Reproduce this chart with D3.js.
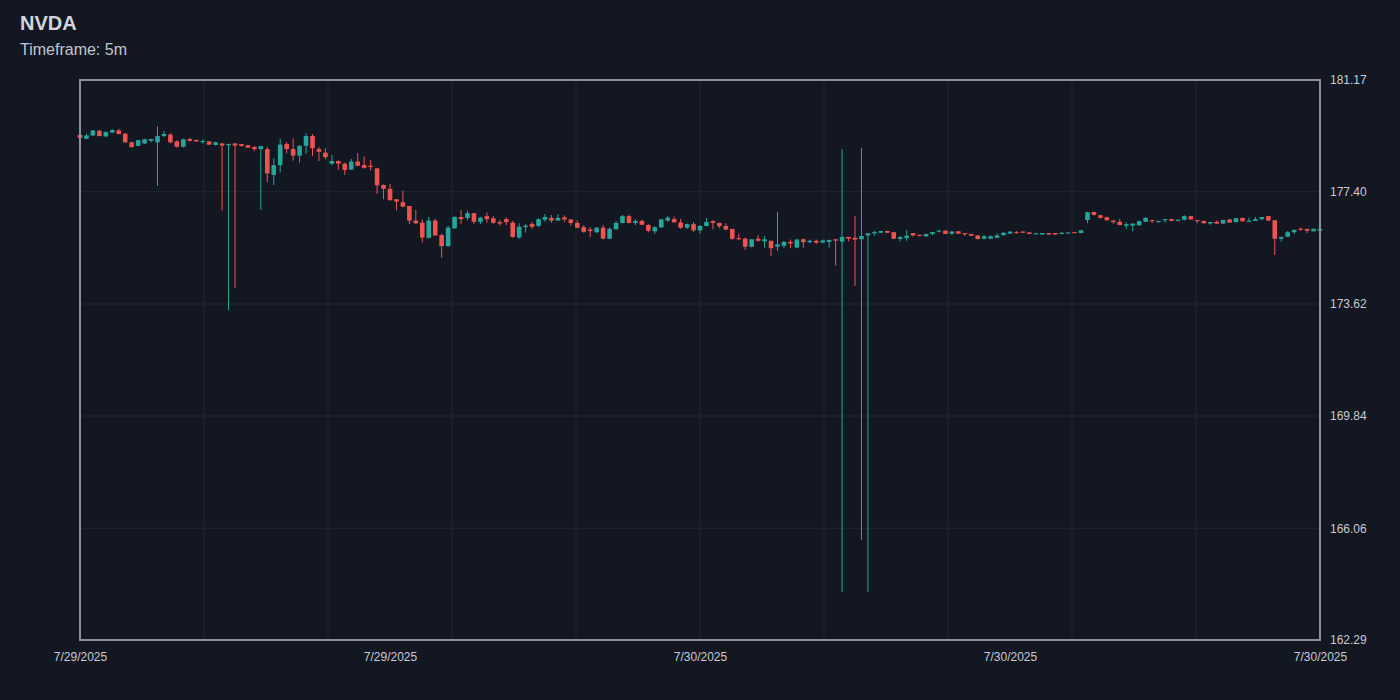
<!DOCTYPE html>
<html>
<head>
<meta charset="utf-8">
<script src="https://cdn.jsdelivr.net/npm/d3@7"></script>
<style>
  html, body { margin: 0; padding: 0; background: #131722; }
  svg { display: block; }
</style>
</head>
<body>
<svg id="chart"></svg>
<script>
// 5m candles, 193 bars
const opens = [
179.32,179.19,179.30,179.46,179.27,179.40,179.47,179.36,179.07,178.95,
179.03,179.12,179.07,179.28,179.33,179.10,178.92,179.18,179.15,179.08,
179.10,178.98,179.03,178.97,179.03,179.01,178.97,178.91,178.84,178.84,
177.97,178.30,179.01,178.84,178.62,178.95,179.28,178.84,178.72,178.35,
178.44,178.35,178.15,178.42,178.30,178.28,178.19,177.63,177.50,177.15,
177.05,176.92,176.43,176.36,175.85,176.43,175.94,175.57,176.17,176.55,
176.52,176.68,176.39,176.58,176.51,176.38,176.48,176.36,175.86,176.21,
176.32,176.25,176.46,176.52,176.43,176.54,176.47,176.35,176.21,176.13,
176.04,176.19,175.82,176.14,176.35,176.58,176.35,176.42,176.28,176.07,
176.20,176.43,176.48,176.37,176.19,176.31,176.10,176.25,176.41,176.35,
176.25,176.15,175.84,175.82,175.55,175.82,175.73,175.75,175.55,175.58,
175.71,175.52,175.80,175.70,175.75,175.69,175.71,175.80,175.72,175.88,
175.85,175.80,175.93,176.00,176.02,176.08,176.04,175.81,175.84,176.01,
175.95,175.90,175.98,176.06,176.09,175.99,176.07,176.01,175.98,175.93,
175.82,175.82,175.85,175.94,175.99,176.04,176.06,176.03,175.97,175.96,
176.01,176.01,175.98,176.00,176.04,176.01,176.45,176.72,176.61,176.54,
176.43,176.39,176.26,176.26,176.27,176.39,176.45,176.39,176.44,176.48,
176.42,176.46,176.58,176.45,176.42,176.33,176.39,176.33,176.47,176.38,
176.52,176.39,176.42,176.48,176.58,176.44,175.82,175.89,176.04,176.16,
176.15,176.07,176.09
];
const highs = [
179.33,179.36,179.48,179.48,179.45,179.52,179.52,179.38,179.09,179.15,
179.19,179.19,179.61,179.45,179.38,179.14,179.19,179.21,179.16,179.16,
179.11,179.09,179.05,179.03,179.04,179.01,178.98,178.94,178.94,178.91,
178.53,179.20,179.08,179.20,178.98,179.38,179.35,178.92,178.87,178.64,
178.46,178.38,178.51,178.71,178.59,178.47,178.21,177.65,177.66,177.15,
177.44,176.92,176.79,176.47,176.56,176.48,176.00,176.26,176.58,176.79,
176.76,176.69,176.55,176.70,176.58,176.45,176.54,176.42,176.34,176.32,
176.38,176.51,176.65,176.62,176.65,176.61,176.47,176.44,176.28,176.21,
176.21,176.28,176.20,176.42,176.62,176.63,176.48,176.46,176.31,176.24,
176.49,176.58,176.57,176.49,176.33,176.38,176.27,176.52,176.44,176.35,
176.34,176.15,175.98,175.86,175.81,175.94,175.91,175.75,176.72,175.74,
175.79,175.82,175.82,175.79,175.79,175.79,175.78,175.81,178.84,175.88,
176.58,178.88,176.01,176.09,176.08,176.09,176.04,175.91,176.11,176.01,
175.95,175.98,176.04,176.12,176.10,176.08,176.08,176.01,175.98,175.94,
175.94,175.94,176.00,176.04,176.07,176.08,176.07,176.04,176.02,176.01,
176.01,176.01,176.04,176.04,176.05,176.12,176.73,176.73,176.63,176.56,
176.44,176.49,176.37,176.33,176.43,176.55,176.45,176.43,176.48,176.49,
176.47,176.61,176.58,176.45,176.42,176.38,176.43,176.45,176.47,176.51,
176.52,176.53,176.55,176.55,176.58,176.45,175.88,176.08,176.12,176.19,
176.15,176.16,176.15
];
const lows = [
179.19,179.18,179.29,179.27,179.24,179.38,179.34,179.05,178.89,178.94,
179.01,179.07,177.60,179.25,179.03,178.89,178.89,179.09,179.09,179.03,
178.98,178.96,176.76,173.41,174.16,178.92,178.88,178.77,176.79,177.72,
177.63,178.05,178.70,178.45,178.38,178.68,178.61,178.44,178.50,178.30,
178.14,177.97,178.14,178.26,178.18,178.12,177.33,177.15,177.10,176.77,
176.88,176.31,176.32,175.69,175.83,175.92,175.18,175.55,176.15,176.32,
176.45,176.32,176.32,176.36,176.32,176.26,176.28,175.85,175.82,176.03,
176.15,176.21,176.39,176.36,176.43,176.39,176.26,176.17,176.02,175.88,
176.01,175.80,175.80,176.12,176.33,176.33,176.28,176.28,176.03,175.98,
176.19,176.39,176.36,176.15,176.15,176.05,175.99,176.24,176.14,176.17,
176.10,175.78,175.78,175.44,175.53,175.72,175.51,175.24,175.41,175.50,
175.50,175.50,175.52,175.67,175.64,175.67,175.52,174.91,163.91,175.73,
174.23,165.66,163.91,175.92,176.01,176.01,175.81,175.73,175.75,175.89,
175.90,175.89,175.94,176.04,175.98,175.94,175.98,175.91,175.91,175.79,
175.80,175.81,175.84,175.93,175.98,175.99,176.01,175.97,175.96,175.96,
175.94,175.96,175.97,175.99,176.01,176.00,176.34,176.60,176.50,176.43,
176.32,176.27,176.15,176.07,176.26,176.38,176.35,176.35,176.36,176.41,
176.41,176.43,176.46,176.34,176.33,176.29,176.32,176.32,176.35,176.37,
176.39,176.39,176.42,176.44,176.42,175.27,175.72,175.87,175.98,176.09,
176.01,176.06,176.08
];
const closes = [
179.22,179.30,179.47,179.28,179.41,179.48,179.35,179.07,178.91,179.14,
179.17,179.18,179.28,179.35,179.07,178.92,179.17,179.12,179.10,179.11,
178.99,179.07,178.96,179.01,178.96,178.95,178.89,178.84,178.94,178.02,
178.30,178.99,178.84,178.62,178.95,179.28,178.87,178.75,178.57,178.44,
178.35,178.14,178.42,178.28,178.21,178.24,177.62,177.50,177.12,177.07,
176.90,176.43,176.34,175.86,176.43,175.93,175.57,176.19,176.55,176.48,
176.68,176.39,176.53,176.48,176.36,176.33,176.38,175.88,176.22,176.26,
176.22,176.48,176.55,176.43,176.52,176.47,176.35,176.19,176.05,176.08,
176.19,175.82,176.15,176.35,176.58,176.35,176.42,176.29,176.09,176.21,
176.47,176.53,176.37,176.19,176.31,176.10,176.25,176.38,176.35,176.24,
176.13,175.82,175.80,175.55,175.80,175.75,175.80,175.50,175.63,175.71,
175.66,175.79,175.70,175.75,175.69,175.76,175.78,175.75,175.88,175.82,
175.79,175.91,176.00,176.04,176.08,176.02,175.82,175.87,175.92,175.93,
175.91,175.98,176.04,176.09,175.98,176.06,175.99,175.97,175.92,175.81,
175.90,175.90,175.93,176.02,176.06,176.01,176.02,175.98,176.00,176.01,
175.96,175.96,176.02,176.03,176.02,176.10,176.71,176.62,176.52,176.44,
176.38,176.28,176.31,176.33,176.41,176.52,176.41,176.42,176.48,176.42,
176.46,176.58,176.47,176.42,176.34,176.38,176.33,176.45,176.36,176.51,
176.41,176.43,176.48,176.55,176.43,175.82,175.88,176.04,176.12,176.12,
176.09,176.15,176.15
];

const xTickIndex = [0, 48, 96, 144, 192];
const xTickLabels = ["7/29/2025", "7/29/2025", "7/30/2025", "7/30/2025", "7/30/2025"];
const yTicks = [162.29, 166.06, 169.84, 173.62, 177.40, 181.17];

const width = 1400, height = 700;
const plotL = 80, plotR = 1320, plotT = 80, plotB = 640;
const up = "#26a69a", down = "#ef5350";

const data = opens.map((o, i) => ({ i, o, h: highs[i], l: lows[i], c: closes[i] }));

const svg = d3.select("#chart").attr("width", width).attr("height", height);
svg.append("rect").attr("width", width).attr("height", height).attr("fill", "#131722");

const x = d3.scaleLinear().domain([0, data.length - 1]).range([plotL, plotR]);
const y = d3.scaleLinear().domain([yTicks[0], yTicks[yTicks.length - 1]]).range([plotB, plotT]);

// title
svg.append("text").attr("x", 20).attr("y", 30).text("NVDA")
    .style("font", "bold 20px 'Liberation Sans', Arial, sans-serif").style("fill", "#d1d4dc");
svg.append("text").attr("x", 20).attr("y", 55).text("Timeframe: 5m")
    .style("font", "16px 'Liberation Sans', Arial, sans-serif").style("fill", "#c3c6ce");

// grid
const grid = svg.append("g").attr("stroke", "#1e222d").attr("stroke-width", 1.5);
grid.selectAll("line.h").data(yTicks.slice(1, -1)).join("line")
    .attr("x1", plotL).attr("x2", plotR)
    .attr("y1", d => y(d)).attr("y2", d => y(d));
const xFrac = d3.scaleLinear().domain([0, 10]).range([plotL, plotR]);
grid.selectAll("line.v").data(d3.range(1, 10)).join("line")
    .attr("y1", plotT).attr("y2", plotB)
    .attr("x1", d => xFrac(d)).attr("x2", d => xFrac(d));

// candles
const bodyW = 4.6;
const candles = svg.append("g").selectAll("g").data(data).join("g");
candles.append("line")
    .attr("x1", d => x(d.i)).attr("x2", d => x(d.i))
    .attr("y1", d => y(d.h)).attr("y2", d => y(d.l))
    .attr("stroke", d => d.c >= d.o ? up : down).attr("stroke-width", 1);
candles.append("rect")
    .attr("x", d => x(d.i) - bodyW / 2).attr("width", bodyW)
    .attr("y", d => y(Math.max(d.o, d.c)))
    .attr("height", d => Math.max(1, y(Math.min(d.o, d.c)) - y(Math.max(d.o, d.c))))
    .attr("fill", d => d.c >= d.o ? up : down);

// frame
svg.append("rect").attr("x", plotL).attr("y", plotT)
    .attr("width", plotR - plotL).attr("height", plotB - plotT)
    .attr("fill", "none").attr("stroke", "#8c9099").attr("stroke-width", 2);

// axes
const yAxis = svg.append("g").attr("transform", `translate(${plotR},0)`)
    .call(d3.axisRight(y).tickValues(yTicks).tickFormat(d3.format(".2f")).tickSize(0).tickPadding(10));
yAxis.select(".domain").remove();
yAxis.selectAll("text").style("font", "12px 'Liberation Sans', Arial, sans-serif").style("fill", "#c8cad0");

const xAxis = svg.append("g").attr("transform", `translate(0,${plotB})`)
    .call(d3.axisBottom(x).tickValues(xTickIndex).tickFormat((d, i) => xTickLabels[i]).tickSize(0).tickPadding(12));
xAxis.select(".domain").remove();
xAxis.selectAll("text").style("font", "12px 'Liberation Sans', Arial, sans-serif").style("fill", "#c8cad0");
</script>
</body>
</html>
